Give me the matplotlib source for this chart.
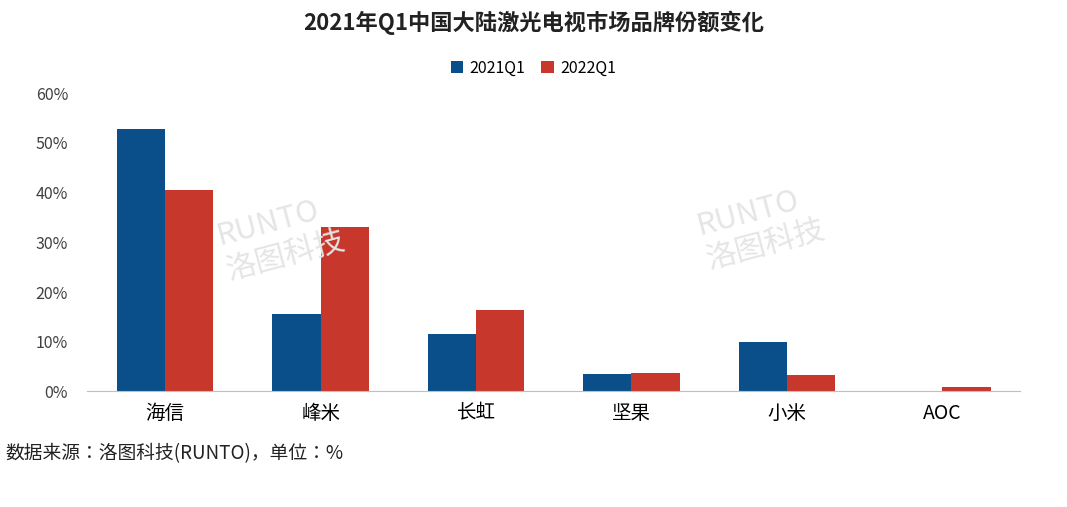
import matplotlib
matplotlib.use("Agg")
import matplotlib.pyplot as plt
from matplotlib import font_manager
import numpy as np

names = {f.name for f in font_manager.fontManager.ttflist}
cjk = [n for n in ["Noto Sans CJK SC", "Noto Sans CJK JP", "Noto Sans CJK TC", "Noto Sans CJK KR"] if n in names]
plt.rcParams["font.family"] = cjk + ["DejaVu Sans"]

categories = ["海信", "峰米", "长虹", "坚果", "小米", "AOC"]
series_names = ["2021Q1", "2022Q1"]
v2021 = [52.9, 15.5, 11.5, 3.6, 9.9, 0.0]
v2022 = [40.6, 33.0, 16.3, 3.8, 3.4, 0.8]
yticks = [0, 10, 20, 30, 40, 50, 60]

fig = plt.figure(figsize=(10.67, 5.07), dpi=100)
ax = fig.add_axes([0.082, 0.228, 0.874, 0.588])
x = np.arange(len(categories))
w = 0.31
ax.bar(x - w/2, v2021, w, color="#0B4F8A", label=series_names[0])
ax.bar(x + w/2, v2022, w, color="#C8372B", label=series_names[1])
ax.set_xlim(-0.5, len(categories) - 0.5)
ax.set_ylim(0, 60)
ax.set_yticks(yticks)
ax.set_yticklabels([f"{t}%" for t in yticks], fontsize=11.5, color="#404040")
ax.set_xticks(x)
ax.set_xticklabels(categories, fontsize=14)
for s in ["top", "right", "left"]:
    ax.spines[s].set_visible(False)
ax.spines["bottom"].set_color("#BFBFBF")
ax.tick_params(axis="y", length=0, pad=14)
ax.tick_params(axis="x", length=0, pad=8)

fig.text(0.5, 0.955, "2021年Q1中国大陆激光电视市场品牌份额变化", ha="center", va="center",
         fontsize=16, fontweight="bold", color="#222222")
fig.legend(loc="center", bbox_to_anchor=(0.5, 0.866), ncol=2, frameon=False, fontsize=11.5,
           handlelength=0.8, handleheight=0.8, columnspacing=1.0, handletextpad=0.4)
fig.text(0.005, 0.105, "数据来源：洛图科技(RUNTO)，单位：%", fontsize=13.5, color="#222222", va="center")
for xx, yy in [(0.2, 0.53), (0.65, 0.55)]:
    fig.text(xx, yy, "RUNTO\n洛图科技", fontsize=22, color="#E5E5E5", rotation=15,
             ha="left", va="center", zorder=0)
fig.savefig("out.png", dpi=100)
